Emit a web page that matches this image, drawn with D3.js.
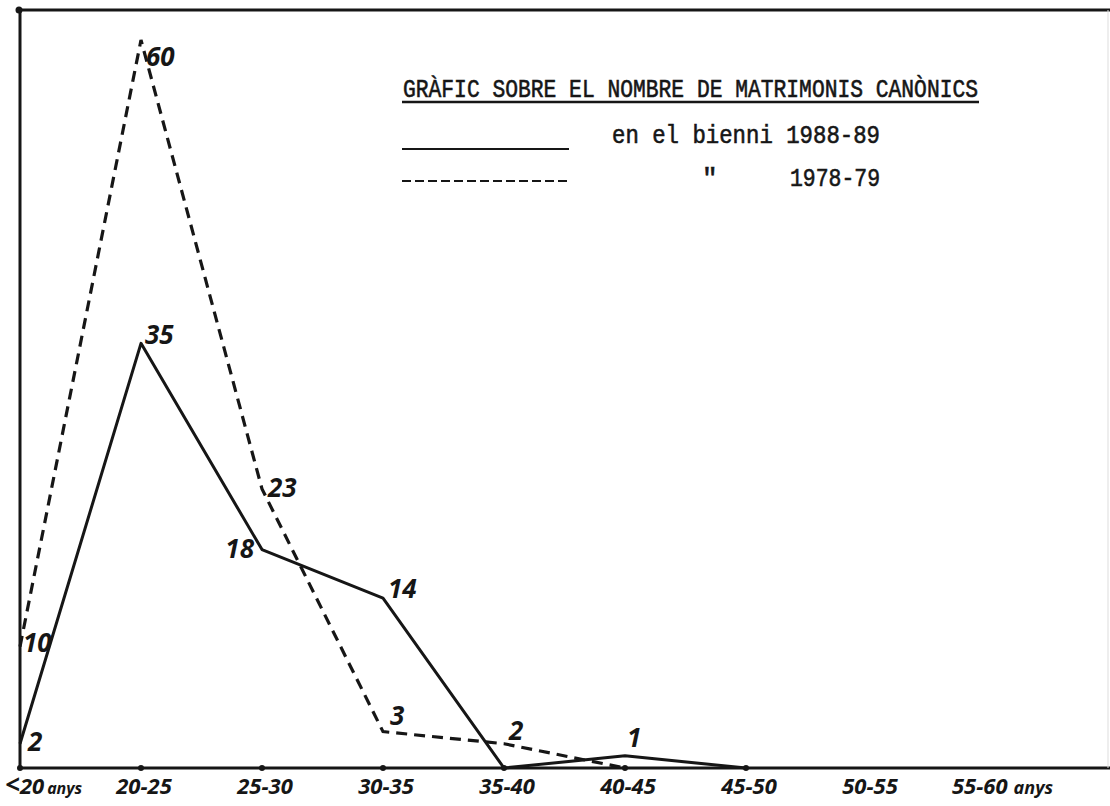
<!DOCTYPE html>
<html>
<head>
<meta charset="utf-8">
<script src="https://cdn.jsdelivr.net/npm/d3@7"></script>
<style>
  body { margin: 0; background: #fff; }
  svg { display: block; }
</style>
</head>
<body>
<div id="chart"></div>
<script>
// age groups along the bottom
var categories = ['<20', '20-25', '25-30', '30-35', '35-40', '40-45', '45-50', '50-55', '55-60'];
// marriages per age group
var values8889 = [2, 35, 18, 14, 0, 1, 0];
var values7879 = [10, 60, 23, 3, 2, 0];
// label nudges (dx, dy) for the hand written numbers
var offs8889 = [[8, 7], [4, 1], [-8, 8], [5, 0], [0, 0], [2, -9], [0, 0]];
var offs7879 = [[3, 5], [5, 26], [6, 8], [7, -7], [5, -4], [0, 0]];

var width = 1110, height = 806;
var ink = '#161616';
var hand = "'Noto Sans', 'DejaVu Sans', sans-serif";
var type = "'Liberation Mono', 'DejaVu Sans Mono', monospace";

var svg = d3.select('#chart').append('svg')
    .attr('width', width)
    .attr('height', height);

var x = d3.scalePoint().domain(categories).range([20, 988]);
var y = d3.scaleLinear().domain([0, 60]).range([768, 40]);

//frame: top, left axis, baseline
var frame = svg.append('g')
    .attr('stroke', ink)
    .attr('stroke-width', 3)
    .attr('fill', 'none');
frame.append('path').attr('d', 'M18,10 H1110');
frame.append('path').attr('d', 'M20,10 V768');
frame.append('path').attr('d', 'M20,768 H1110');
frame.append('path').attr('d', 'M1108,10 V768').attr('stroke', '#ddd').attr('stroke-width', 1);
svg.append('circle').attr('cx', 19).attr('cy', 10).attr('r', 3.5).attr('fill', ink);

// tick dots on the baseline
svg.selectAll('.tick-dot')
    .data(categories.slice(0, 7))
    .enter().append('circle')
    .attr('class', 'tick-dot')
    .attr('cx', function(d) { return x(d); })
    .attr('cy', y(0))
    .attr('r', 3)
    .attr('fill', ink);

// category labels
var xl = svg.append('g')
    .attr('font-family', hand)
    .attr('font-style', 'italic')
    .attr('font-weight', 700)
    .attr('font-size', 22)
    .attr('fill', ink);
categories.forEach(function(c, i) {
    var t = xl.append('text').attr('y', 794);
    if (i === 0) {
        t.attr('x', x(c) - 15).attr('text-anchor', 'start');
        t.append('tspan').attr('font-size', 26).text('<');
        t.append('tspan').text('20');
        t.append('tspan').attr('font-size', 16).attr('dx', 3).text('anys');
    } else if (i === categories.length - 1) {
        t.attr('x', x(c) - 36).attr('text-anchor', 'start');
        t.append('tspan').text(c);
        t.append('tspan').attr('font-size', 18).attr('dx', 6).text('anys');
    } else {
        t.attr('x', x(c) + 3).attr('text-anchor', 'middle').text(c);
    }
});

var line = d3.line()
    .x(function(d, i) { return x(categories[i]); })
    .y(function(d) { return y(d); });

// 1978-79 dashed
svg.append('path')
    .datum(values7879)
    .attr('fill', 'none')
    .attr('stroke', ink)
    .attr('stroke-width', 3.2)
    .attr('stroke-dasharray', '11,7')
    .attr('d', line);

// 1988-89 solid
svg.append('path')
    .datum(values8889)
    .attr('fill', 'none')
    .attr('stroke', ink)
    .attr('stroke-width', 3)
    .attr('stroke-linejoin', 'round')
    .attr('d', line);

function addLabels(vals, offs) {
    svg.append('g')
        .attr('font-family', hand)
        .attr('font-style', 'italic')
        .attr('font-weight', 700)
        .attr('font-size', 26)
        .attr('fill', ink)
        .selectAll('text')
        .data(vals.map(function(v, i) { return {v: v, i: i}; }).filter(function(d) { return d.v > 0; }))
        .enter().append('text')
        .attr('x', function(d) { return x(categories[d.i]) + offs[d.i][0]; })
        .attr('y', function(d) { return y(d.v) + offs[d.i][1]; })
        .attr('text-anchor', function(d) { return offs[d.i][0] < 0 ? 'end' : 'start'; })
        .text(function(d) { return d.v; });
}
addLabels(values8889, offs8889);
addLabels(values7879, offs7879);

// title and legend, typewritten
var tx = svg.append('g')
    .attr('font-family', type)
    .attr('font-size', 26)
    .attr('fill', ink)
    .attr('stroke', ink)
    .attr('stroke-width', 0.6);
tx.append('text')
    .attr('x', 403).attr('y', 97)
    .attr('textLength', 575)
    .attr('lengthAdjust', 'spacingAndGlyphs')
    .text('GRÀFIC SOBRE EL NOMBRE DE MATRIMONIS CANÒNICS');
svg.append('line')
    .attr('x1', 402).attr('x2', 979)
    .attr('y1', 102).attr('y2', 102)
    .attr('stroke', ink).attr('stroke-width', 2.4);

svg.append('line')
    .attr('x1', 402).attr('x2', 569)
    .attr('y1', 149).attr('y2', 149)
    .attr('stroke', ink).attr('stroke-width', 2.2);
tx.append('text')
    .attr('x', 612).attr('y', 143)
    .attr('textLength', 268)
    .attr('lengthAdjust', 'spacingAndGlyphs')
    .text('en el bienni 1988-89');

svg.append('line')
    .attr('x1', 402).attr('x2', 569)
    .attr('y1', 181).attr('y2', 181)
    .attr('stroke', ink).attr('stroke-width', 2.2)
    .attr('stroke-dasharray', '9,4');
tx.append('text')
    .attr('x', 702).attr('y', 186)
    .text('"');
tx.append('text')
    .attr('x', 790).attr('y', 186)
    .attr('textLength', 90)
    .attr('lengthAdjust', 'spacingAndGlyphs')
    .text('1978-79');
</script>
</body>
</html>
